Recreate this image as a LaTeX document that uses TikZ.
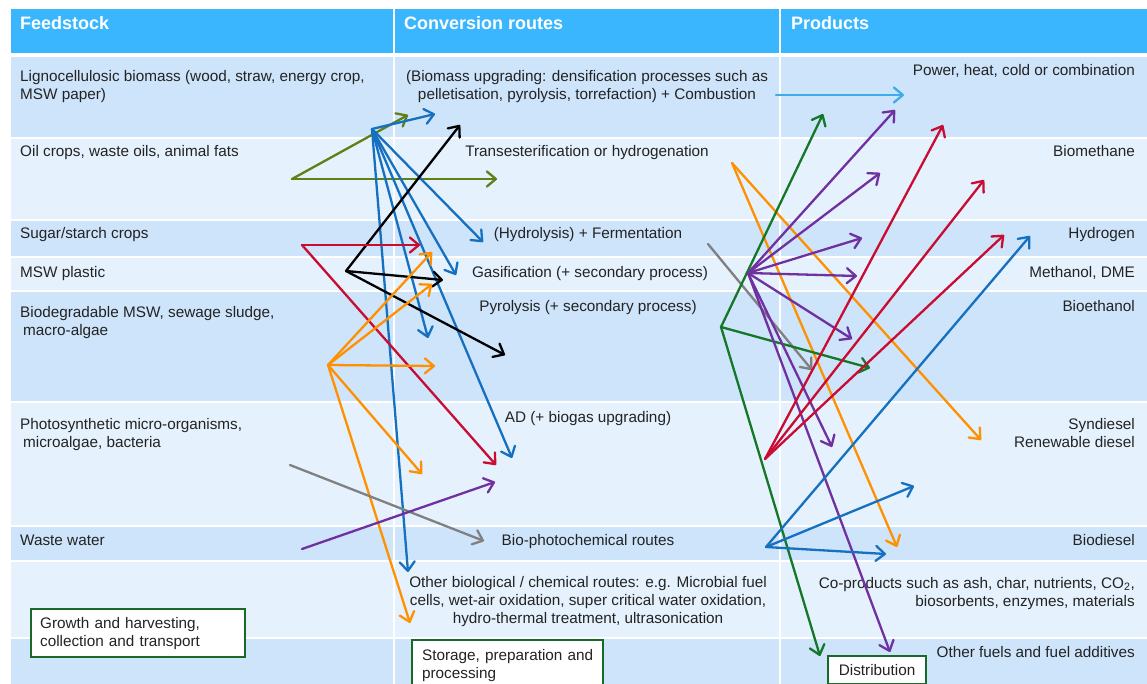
\documentclass[tikz,border=0pt]{standalone}
\usepackage{fontspec}
\setmainfont{Liberation Sans}
\usetikzlibrary{arrows.meta}
\definecolor{hdr}{RGB}{58,182,255}
\definecolor{rowA}{RGB}{205,228,250}
\definecolor{rowB}{RGB}{229,241,253}
\definecolor{txt}{RGB}{35,35,35}
\definecolor{cOlive}{RGB}{94,128,20}
\definecolor{cBlue}{RGB}{22,112,192}
\definecolor{cRed}{RGB}{200,12,50}
\definecolor{cOrange}{RGB}{255,145,0}
\definecolor{cGray}{RGB}{128,128,128}
\definecolor{cPurple}{RGB}{112,48,160}
\definecolor{cGreen}{RGB}{20,120,40}
\definecolor{cSky}{RGB}{60,172,235}
\definecolor{boxgreen}{RGB}{25,105,40}
\begin{document}
\begin{tikzpicture}[x=1pt,y=-1pt,
  font=\fontsize{15.3}{18}\selectfont,
  fs/.style={anchor=base west, align=left, inner sep=0pt, text=txt},
  cr/.style={anchor=base, align=center, inner sep=0pt, text=txt},
  pr/.style={anchor=base east, align=right, inner sep=0pt, text=txt},
  hd/.style={anchor=base west, inner sep=0pt, text=white, font=\fontsize{18}{20}\selectfont\bfseries},
  gbox/.style={draw=boxgreen, line width=2.2pt, fill=white, anchor=north west, align=left, inner xsep=9pt, inner ysep=2pt, text=txt},
  arr/.style={line width=2.3pt, line cap=round, line join=round, -{Straight Barb[length=9pt,width=15pt,line cap=round,line join=round]}}
]
\useasboundingbox (0,0) rectangle (1147,684);
\fill[white] (0,0) rectangle (1147,684);
% header and rows
\fill[hdr] (11,9) rectangle (1147,53);
\fill[rowA] (11,57) rectangle (1147,137);
\fill[rowB] (11,139) rectangle (1147,219);
\fill[rowA] (11,221) rectangle (1147,256);
\fill[rowB] (11,258) rectangle (1147,290);
\fill[rowA] (11,292) rectangle (1147,401);
\fill[rowB] (11,403) rectangle (1147,525);
\fill[rowA] (11,527) rectangle (1147,560);
\fill[rowB] (11,562) rectangle (1147,637);
\fill[rowA] (11,639) rectangle (1147,684);
\draw[white, line width=1.5pt] (394,9) -- (394,684) (780,9) -- (780,684);
% headers
\node[hd] (h1) at (20,30) {Feedstock};
\node[hd] (h2) at (404,30) {Conversion routes};
\node[hd] (h3) at (791,30) {Products};
% feedstock
\node[fs] (f1) at (20,100) {Lignocellulosic biomass (wood, straw, energy crop,\\MSW paper)};
\node[fs] (f2) at (20,157) {Oil crops, waste oils, animal fats};
\node[fs] (f3) at (20,239) {Sugar/starch crops};
\node[fs] (f4) at (20,277) {MSW plastic};
\node[fs] (f5) at (20,335) {Biodegradable MSW, sewage sludge,\\\hspace{3pt}macro-algae};
\node[fs] (f6) at (20,447) {Photosynthetic micro-organisms,\\\hspace{3pt}microalgae, bacteria};
\node[fs] (f7) at (20,545) {Waste water};
% conversion routes
\node[cr] (c1) at (587,100) {(Biomass upgrading: densification processes such as\\pelletisation, pyrolysis, torrefaction) + Combustion};
\node[cr] (c2) at (587,157) {Transesterification or hydrogenation};
\node[cr] (c3) at (588,239) {(Hydrolysis) + Fermentation};
\node[cr] (c4) at (590,277) {Gasification (+ secondary process)};
\node[cr] (c5) at (588,311) {Pyrolysis (+ secondary process)};
\node[cr] (c6) at (588,422) {AD (+ biogas upgrading)};
\node[cr] (c7) at (588,545) {Bio-photochemical routes};
\node[cr] (c8) at (588,623) {Other biological / chemical routes: e.g. Microbial fuel\\cells, wet-air oxidation, super critical water oxidation,\\hydro-thermal treatment, ultrasonication};
% products
\node[pr] (p1) at (1135,76) {Power, heat, cold or combination};
\node[pr] (p2) at (1135,157) {Biomethane};
\node[pr] (p3) at (1135,239) {Hydrogen};
\node[pr] (p4) at (1135,277) {Methanol, DME};
\node[pr] (p5) at (1135,311) {Bioethanol};
\node[pr] (p6) at (1135,447) {Syndiesel\\Renewable diesel};
\node[pr] (p7) at (1135,545) {Biodiesel};
\node[pr] (p8) at (1135,606) {Co-products such as ash, char, nutrients, CO\textsubscript{2},\\biosorbents, enzymes, materials};
\node[pr] (p9) at (1135,657) {Other fuels and fuel additives};
% green boxes
\node[gbox, text width=196pt, minimum height=48pt] (growth) at (30,608) {Growth and harvesting,\\collection and transport};
\node[gbox, text width=171pt, inner xsep=10pt, minimum height=50pt] (storage) at (411,639) {Storage, preparation and\\processing};
\node[gbox, minimum width=98pt, minimum height=28pt, inner xsep=4pt] (distr) at (827,655) {Distribution};
% coordinates
\coordinate (oliveO) at (292,179);
\coordinate (ol1) at (408,115);
\coordinate (ol2) at (497,179);
\coordinate (blueO) at (372,129);
\coordinate (bl1) at (435,114);
\coordinate (bl2) at (483,242);
\coordinate (bl3) at (456,275);
\coordinate (bl4) at (428,338);
\coordinate (bl5) at (512,458);
\coordinate (bl6) at (408,572);
\coordinate (blackO) at (346,271);
\coordinate (bk1) at (460,125);
\coordinate (bk2) at (443,280);
\coordinate (bk3) at (505,355);
\coordinate (redL) at (302,245);
\coordinate (rl1) at (420,245);
\coordinate (rl2) at (496,465);
\coordinate (redR) at (765,459);
\coordinate (rr1) at (943,125);
\coordinate (rr2) at (984,180);
\coordinate (rr3) at (1004,235);
\coordinate (orL) at (328,365);
\coordinate (ol1a) at (432,252);
\coordinate (ol2a) at (432,284);
\coordinate (ol3a) at (435,366);
\coordinate (ol4a) at (422,474);
\coordinate (ol5a) at (410,623);
\coordinate (orR) at (732,163);
\coordinate (or1) at (981,440);
\coordinate (or2) at (897,547);
\coordinate (grL) at (290,465);
\coordinate (grL1) at (484,541);
\coordinate (grR) at (708,244);
\coordinate (grR1) at (812,370);
\coordinate (puL) at (302,549);
\coordinate (puL1) at (495,482);
\coordinate (puR) at (748,273);
\coordinate (pu1) at (895,110);
\coordinate (pu2) at (880,173);
\coordinate (pu3) at (862,238);
\coordinate (pu4) at (857,276);
\coordinate (pu5) at (852,339);
\coordinate (pu6) at (832,447);
\coordinate (pu7) at (890,652);
\coordinate (gnO) at (721,327);
\coordinate (gn1) at (823,114);
\coordinate (gn2) at (870,368);
\coordinate (gn3) at (820,656);
\coordinate (skyO) at (776,95);
\coordinate (sky1) at (904,95);
\coordinate (blR) at (766,547);
\coordinate (br1) at (1030,236);
\coordinate (br2) at (914,486);
\coordinate (br3) at (886,554);
% arrows
\foreach \t in {ol1,ol2} \draw[arr,cOlive] (oliveO) -- (\t);
\foreach \t in {bl1,bl2,bl3,bl4,bl5,bl6} \draw[arr,cBlue] (blueO) -- (\t);
\foreach \t in {bk1,bk2,bk3} \draw[arr,black] (blackO) -- (\t);
\foreach \t in {rl1,rl2} \draw[arr,cRed] (redL) -- (\t);
\foreach \t in {ol1a,ol2a,ol3a,ol4a,ol5a} \draw[arr,cOrange] (orL) -- (\t);
\draw[arr,cGray] (grL) -- (grL1);
\draw[arr,cPurple] (puL) -- (puL1);
\foreach \t in {or1,or2} \draw[arr,cOrange] (orR) -- (\t);
\draw[arr,cGray] (grR) -- (grR1);
\foreach \t in {gn1,gn2,gn3} \draw[arr,cGreen] (gnO) -- (\t);
\foreach \t in {pu1,pu2,pu3,pu4,pu5,pu6,pu7} \draw[arr,cPurple] (puR) -- (\t);
\foreach \t in {rr1,rr2,rr3} \draw[arr,cRed] (redR) -- (\t);
\draw[arr,cSky] (skyO) -- (sky1);
\foreach \t in {br1,br2,br3} \draw[arr,cBlue] (blR) -- (\t);
\end{tikzpicture}
\end{document}
